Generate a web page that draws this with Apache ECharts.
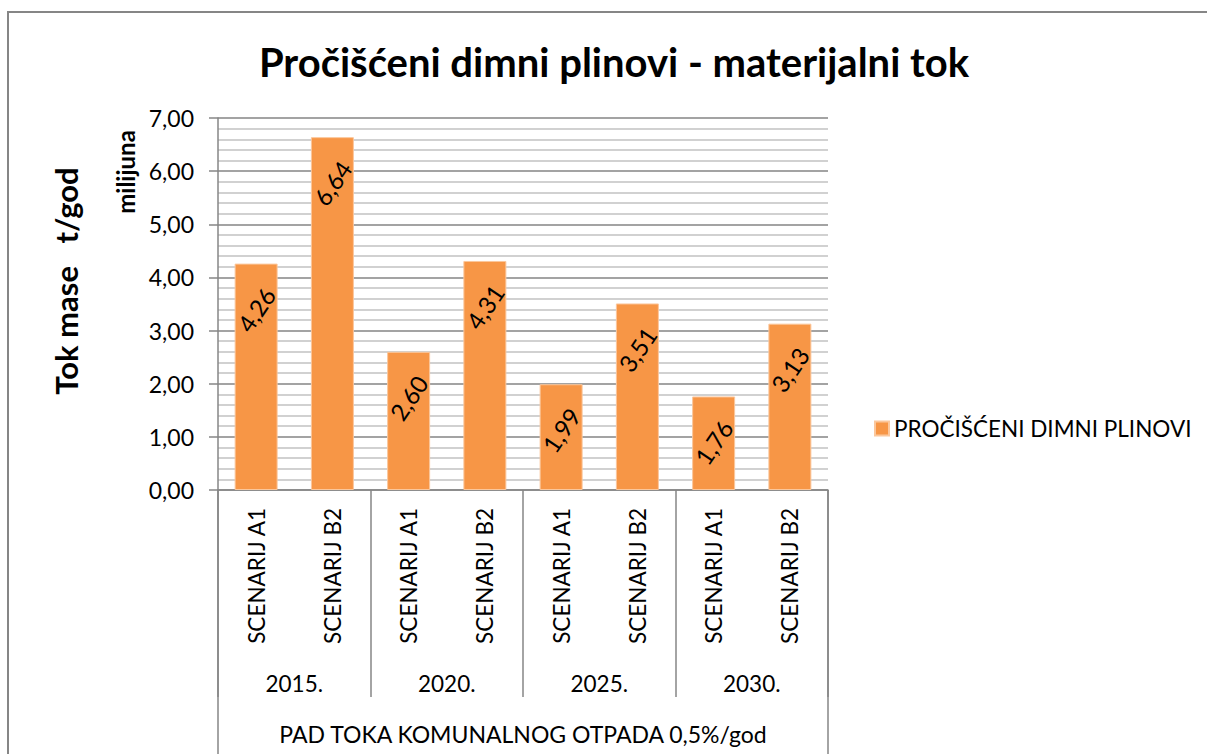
<!DOCTYPE html>
<html>
<head>
<meta charset="utf-8">
<title>Pročišćeni dimni plinovi - materijalni tok</title>
<script src="https://cdn.jsdelivr.net/npm/echarts@6/dist/echarts.min.js"></script>
<style>
  html, body { margin: 0; padding: 0; background: #ffffff; }
  #chart { width: 1207px; height: 754px; }
</style>
</head>
<body>
<div id="chart"></div>
<script>
// Chart data
const scenarios = ['SCENARIJ A1', 'SCENARIJ B2', 'SCENARIJ A1', 'SCENARIJ B2',
                   'SCENARIJ A1', 'SCENARIJ B2', 'SCENARIJ A1', 'SCENARIJ B2'];
const years = ['2015.', '2020.', '2025.', '2030.'];
const groupLabel = ['PAD TOKA KOMUNALNOG OTPADA 0,5%/god'];
const seriesName = 'PROČIŠĆENI DIMNI PLINOVI';
const values = [4.26, 6.64, 2.60, 4.31, 1.99, 3.51, 1.76, 3.13];
const yTicks = [0, 1, 2, 3, 4, 5, 6, 7];

const FONT = 'Lato, "Open Sans", sans-serif';
const AXIS_GRAY = '#868686';
const fmt = v => v.toFixed(2).replace('.', ',');

const chart = echarts.init(document.getElementById('chart'), null, { renderer: 'svg' });

chart.setOption({
  backgroundColor: '#ffffff',
  animation: false,
  textStyle: { fontFamily: FONT, color: '#000' },
  grid: { left: 218, right: 379, top: 118, bottom: 264, containLabel: false },
  legend: {
    left: 869, top: 412,
    itemWidth: 14, itemHeight: 14, itemGap: 8,
    icon: 'rect',
    textStyle: { fontFamily: FONT, fontSize: 22.5, color: '#000' },
    data: [seriesName]
  },
  graphic: [
    {
      type: 'rect', z: -10, silent: true,
      shape: { x: 8, y: 12, width: 1260, height: 800 },
      style: { fill: 'none', stroke: AXIS_GRAY, lineWidth: 2 }
    },
    {
      type: 'text', x: 614, y: 62,
      style: {
        text: 'Pročišćeni dimni plinovi - materijalni tok',
        font: 'bold 40px ' + FONT, fill: '#000',
        align: 'center', verticalAlign: 'middle'
      }
    },
    {
      type: 'text', x: 66, y: 281, rotation: Math.PI / 2,
      style: {
        text: 'Tok mase   t/god',
        font: 'bold 31px ' + FONT, fill: '#000',
        align: 'center', verticalAlign: 'middle'
      }
    },
    {
      type: 'text', x: 125, y: 172, rotation: Math.PI / 2,
      style: {
        text: 'milijuna',
        font: 'bold 24px ' + FONT, fill: '#000',
        align: 'center', verticalAlign: 'middle'
      }
    }
  ],
  xAxis: [
    {
      type: 'category', position: 'bottom', data: scenarios,
      axisLine: { show: true, lineStyle: { color: AXIS_GRAY, width: 1.5 } },
      axisTick: { show: false },
      axisLabel: { rotate: 90, margin: 18, fontSize: 22.5, color: '#000', interval: 0 },
      splitLine: { show: false }
    },
    {
      type: 'category', position: 'bottom', data: years,
      axisLine: { show: false },
      axisTick: { show: true, length: 207, lineStyle: { color: AXIS_GRAY, width: 1.5 } },
      axisLabel: { margin: 182, fontSize: 22.5, color: '#000', interval: 0 },
      splitLine: { show: false }
    },
    {
      type: 'category', position: 'bottom', data: groupLabel,
      axisLine: { show: false },
      axisTick: { show: true, length: 270, lineStyle: { color: AXIS_GRAY, width: 1.5 } },
      axisLabel: { margin: 232, fontSize: 23, color: '#000' },
      splitLine: { show: false }
    }
  ],
  yAxis: {
    type: 'value',
    min: yTicks[0], max: yTicks[yTicks.length - 1], interval: 1,
    axisLine: { show: true, lineStyle: { color: AXIS_GRAY, width: 1.5 } },
    axisTick: { show: true, length: 9, lineStyle: { color: AXIS_GRAY, width: 1.5 } },
    axisLabel: { formatter: fmt, fontSize: 23, color: '#000', margin: 24 },
    splitLine: { show: true, lineStyle: { color: '#858585', width: 1.6 } },
    minorTick: { show: false, splitNumber: 5 },
    minorSplitLine: { show: true, lineStyle: { color: '#c2c2c2', width: 1.6 } }
  },
  series: [
    {
      name: seriesName,
      type: 'bar',
      xAxisIndex: 0,
      data: values,
      barWidth: 43,
      itemStyle: { color: '#F79646', borderColor: '#fbc79c', borderWidth: 1 },
      label: {
        show: true,
        position: ['50%', 46],
        align: 'center',
        verticalAlign: 'middle',
        rotate: 56,
        fontSize: 24,
        color: '#000',
        formatter: p => fmt(p.value)
      }
    }
  ]
});
</script>
</body>
</html>
